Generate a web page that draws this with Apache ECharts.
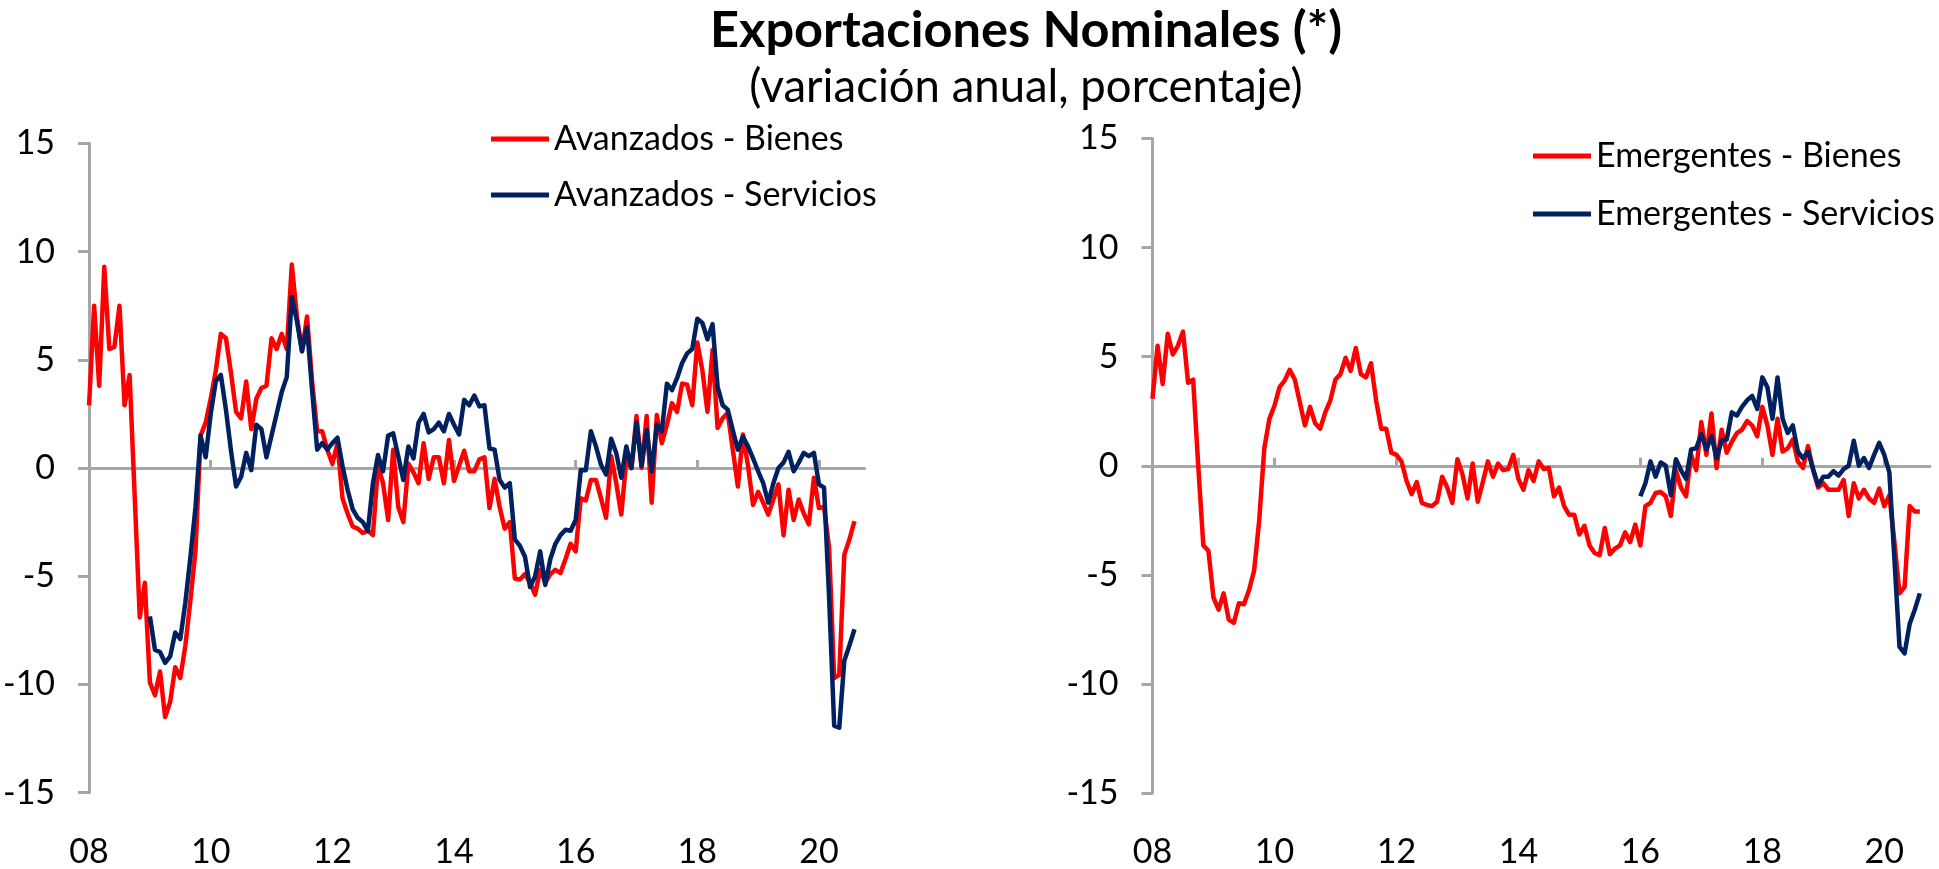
<!DOCTYPE html>
<html>
<head>
<meta charset="utf-8">
<title>Exportaciones Nominales</title>
<script src="https://cdn.jsdelivr.net/npm/echarts@6/dist/echarts.min.js"></script>
<style>
  html, body { margin: 0; padding: 0; background: #fff; }
  #chart { width: 1939px; height: 869px; }
</style>
</head>
<body>
<div id="chart"></div>
<script>
// categorias mensuales: ene-2008 .. oct-2020
const months = []
for (let y = 2008; y <= 2020; y++) {
  for (let m = 1; m <= 12; m++) {
    if (y === 2020 && m > 10) break
    months.push(y + '-' + (m < 10 ? '0' + m : m))
  }
}

const yTicks = { min: -15, max: 15, interval: 5 }

// Avanzados - Bienes (desde ene-2008)
const avzBienes = [
  2.9, 7.5, 3.8, 9.3, 5.5, 5.6, 7.5, 2.9, 4.3, -1.3, -6.9, -5.3,
  -9.9, -10.5, -9.4, -11.5, -10.8, -9.2, -9.7, -8.2, -6.1, -3.8, 1.5, 2.1,
  3.2, 4.5, 6.2, 6.0, 4.4, 2.6, 2.3, 4.0, 1.8, 3.2, 3.7, 3.8,
  6.0, 5.5, 6.2, 5.5, 9.4, 7.0, 5.4, 7.0, 4.0, 1.7, 1.7, 0.85,
  0.2, 1.15, -1.4, -2.1, -2.7, -2.8, -3.0, -2.9, -3.1, 0.1, -0.7, -2.4,
  0.85, -1.8, -2.5, 0.2, -0.2, -0.7, 1.15, -0.5, 0.5, 0.5, -0.7, 1.3,
  -0.6, 0.1, 0.8, -0.15, -0.15, 0.4, 0.5, -1.85, -0.5, -1.8, -2.8, -2.5,
  -5.1, -5.15, -4.9, -5.3, -5.85, -4.7, -5.3, -4.9, -4.7, -4.85, -4.2, -3.5,
  -3.85, -1.4, -1.5, -0.55, -0.55, -1.4, -2.3, 0.55, -0.7, -2.15, 0.4, 0.0,
  2.4, 0.0, 2.4, -1.6, 2.45, 1.15, 2.0, 3.0, 2.6, 3.9, 3.85, 2.9,
  5.8, 4.5, 2.6, 5.45, 1.85, 2.3, 2.55, 0.85, -0.85, 1.55, 0.1, -1.7,
  -1.1, -1.6, -2.15, -1.45, -0.75, -3.1, -1.0, -2.4, -1.45, -2.1, -2.6, -0.45,
  -1.85, -1.8, -3.7, -9.7, -9.55, -4.0, -3.3, -2.45
]

// Avanzados - Servicios (desde ene-2009)
const avzServiciosStart = '2009-01'
const avzServicios = [
  -6.85, -8.4, -8.5, -9.0, -8.7, -7.6, -7.9, -6.2, -4.1, -1.8, 1.5, 0.5,
  2.5, 4.0, 4.3, 2.7, 0.8, -0.85, -0.4, 0.7, -0.1, 2.0, 1.8, 0.5,
  1.5, 2.5, 3.5, 4.2, 7.9, 6.8, 5.4, 6.5, 3.6, 0.85, 1.15, 0.85,
  1.15, 1.4, 0.1, -1.0, -1.9, -2.3, -2.5, -2.9, -0.7, 0.6, -0.15, 1.5,
  1.6, 0.55, -0.55, 1.0, 0.45, 2.1, 2.5, 1.65, 1.8, 2.1, 1.7, 2.5,
  2.0, 1.55, 3.15, 2.9, 3.35, 2.85, 2.9, 0.9, 0.85, -0.55, -0.9, -0.7,
  -3.3, -3.6, -4.1, -5.5, -5.0, -3.85, -5.4, -4.2, -3.5, -3.1, -2.85, -2.9,
  -2.4, -0.1, -0.1, 1.7, 1.0, 0.15, -0.3, 1.35, 0.7, -0.45, 1.0, 0.0,
  2.1, 0.1, 1.75, -0.15, 2.0, 1.7, 3.9, 3.6, 4.15, 4.85, 5.3, 5.5,
  6.9, 6.7, 5.95, 6.65, 3.75, 2.9, 2.7, 1.75, 0.85, 1.45, 1.0, 0.45,
  -0.15, -0.7, -1.6, -0.7, 0.0, 0.25, 0.75, -0.15, 0.25, 0.7, 0.55, 0.7,
  -0.75, -0.9, -6.0, -11.9, -12.0, -8.9, -8.2, -7.45
]

// Emergentes - Bienes (desde ene-2008)
const emgBienes = [
  3.07, 5.5, 3.75, 6.05, 5.1, 5.5, 6.15, 3.8, 3.95, 0.0, -3.65, -3.9,
  -6.05, -6.6, -5.85, -7.05, -7.2, -6.3, -6.35, -5.7, -4.8, -2.5, 0.8, 2.15,
  2.75, 3.6, 3.9, 4.4, 3.95, 2.9, 1.85, 2.7, 1.95, 1.7, 2.45, 3.0,
  3.95, 4.2, 4.95, 4.35, 5.4, 4.2, 4.05, 4.7, 3.0, 1.7, 1.7, 0.6,
  0.5, 0.2, -0.7, -1.3, -0.75, -1.7, -1.8, -1.85, -1.65, -0.5, -1.0, -1.7,
  0.3, -0.4, -1.5, 0.1, -1.65, -0.75, 0.2, -0.5, 0.1, -0.2, -0.15, 0.5,
  -0.6, -1.1, -0.2, -0.7, 0.2, -0.15, -0.1, -1.4, -1.0, -1.85, -2.25, -2.25,
  -3.15, -2.75, -3.65, -4.0, -4.1, -2.85, -4.05, -3.8, -3.65, -3.05, -3.5, -2.7,
  -3.65, -1.85, -1.7, -1.25, -1.2, -1.4, -2.3, -0.2, -1.0, -1.4, 0.5, -0.2,
  2.0, 0.5, 2.4, -0.1, 1.65, 0.6, 1.1, 1.5, 1.65, 2.05, 1.85, 1.35,
  2.7, 1.85, 0.5, 2.15, 0.65, 0.8, 1.2, 0.2, -0.1, 0.9, -0.2, -1.0,
  -0.8, -1.1, -1.1, -1.1, -0.65, -2.3, -0.8, -1.5, -1.1, -1.5, -1.7, -1.05,
  -1.85, -1.35, -3.5, -5.85, -5.55, -1.85, -2.1, -2.1
]

// Emergentes - Servicios (desde ene-2016)
const emgServiciosStart = '2016-01'
const emgServicios = [
  -1.4, -0.8, 0.2, -0.5, 0.15, 0.0, -1.35, 0.3, -0.2, -0.6, 0.75, 0.8,
  1.45, 0.75, 1.35, 0.35, 1.15, 1.2, 2.45, 2.3, 2.7, 3.0, 3.2, 2.6,
  4.05, 3.6, 2.15, 4.05, 2.15, 1.5, 1.85, 0.65, 0.35, 0.65, -0.15, -0.9,
  -0.5, -0.5, -0.25, -0.45, -0.15, 0.0, 1.15, 0.0, 0.35, -0.1, 0.5, 1.05,
  0.5, -0.3, -4.3, -8.3, -8.6, -7.25, -6.6, -5.85
]

const RED = '#FF0000'
const NAVY = '#002060'
const GRAY = '#A6A6A6'
const FONT = 'Lato, "Noto Sans", sans-serif'

function fromStart(start, values) {
  const s = months.indexOf(start)
  return values.map((v, i) => [s + i, v])
}

const chart = echarts.init(document.getElementById('chart'), null, { renderer: 'canvas' })

function labelAxis(grid) {
  return {
    type: 'category',
    gridIndex: grid,
    data: months,
    boundaryGap: false,
    axisLine: { show: false, onZero: false },
    axisTick: { show: false },
    axisLabel: {
      interval: 23,
      margin: 42,
      fontSize: 34,
      fontFamily: FONT,
      color: '#000',
      formatter: v => v.slice(2, 4)
    },
    splitLine: { show: false }
  }
}

function zeroAxis(grid) {
  return {
    type: 'category',
    gridIndex: grid,
    data: months,
    boundaryGap: false,
    axisLine: { show: true, onZero: true, lineStyle: { color: GRAY, width: 3 } },
    axisTick: { show: true, interval: 23, length: 8, lineStyle: { color: GRAY, width: 3 } },
    axisLabel: { show: false },
    splitLine: { show: false }
  }
}

function valueAxis(grid) {
  return {
    type: 'value',
    gridIndex: grid,
    min: yTicks.min,
    max: yTicks.max,
    interval: yTicks.interval,
    axisLine: { show: true, lineStyle: { color: GRAY, width: 3 } },
    axisTick: { show: true, length: 11, lineStyle: { color: GRAY, width: 3 } },
    axisLabel: { margin: 34, fontSize: 34, fontFamily: FONT, color: '#000' },
    splitLine: { show: false }
  }
}

function lineSeries(name, data, color, xIdx, yIdx) {
  return {
    name: name,
    type: 'line',
    xAxisIndex: xIdx,
    yAxisIndex: yIdx,
    data: data,
    symbol: 'none',
    lineStyle: { color: color, width: 4.5, join: 'round' },
    itemStyle: { color: color },
    z: 3
  }
}

const legendText = { fontSize: 34, fontFamily: FONT, color: '#000', lineHeight: 40 }

chart.setOption({
  animation: false,
  backgroundColor: '#fff',
  graphic: [
    {
      type: 'text',
      x: 1026,
      y: 31,
      style: {
        text: 'Exportaciones Nominales (*)',
        font: 'bold 50.5px ' + FONT,
        fill: '#000',
        align: 'center',
        verticalAlign: 'middle'
      }
    },
    {
      type: 'text',
      x: 1026,
      y: 87,
      style: {
        text: '(variación anual, porcentaje)',
        font: '45.5px ' + FONT,
        fill: '#000',
        align: 'center',
        verticalAlign: 'middle'
      }
    }
  ],
  legend: [
    {
      orient: 'vertical',
      left: 486,
      top: 114,
      itemWidth: 58,
      itemHeight: 5,
      itemGap: 16,
      icon: 'rect',
      textStyle: legendText,
      data: ['Avanzados - Bienes', 'Avanzados - Servicios']
    },
    {
      orient: 'vertical',
      left: 1528,
      top: 131,
      itemWidth: 58,
      itemHeight: 5,
      itemGap: 18,
      icon: 'rect',
      textStyle: legendText,
      data: ['Emergentes - Bienes', 'Emergentes - Servicios']
    }
  ],
  grid: [
    { left: 86.6, top: 143.4, width: 778, height: 649.3 },
    { left: 1152.5, top: 138.5, width: 777.5, height: 662.8 }
  ],
  xAxis: [labelAxis(0), zeroAxis(0), labelAxis(1), zeroAxis(1)],
  yAxis: [valueAxis(0), valueAxis(1)],
  series: [
    lineSeries('Avanzados - Bienes', fromStart('2008-01', avzBienes), RED, 0, 0),
    lineSeries('Avanzados - Servicios', fromStart(avzServiciosStart, avzServicios), NAVY, 0, 0),
    lineSeries('Emergentes - Bienes', fromStart('2008-01', emgBienes), RED, 2, 1),
    lineSeries('Emergentes - Servicios', fromStart(emgServiciosStart, emgServicios), NAVY, 2, 1)
  ]
})
</script>
</body>
</html>
